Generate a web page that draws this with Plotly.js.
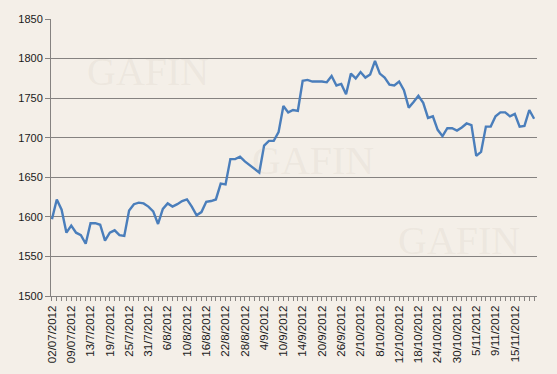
<!DOCTYPE html>
<html>
<head>
<meta charset="utf-8">
<script src="https://cdn.plot.ly/plotly-3.0.1.min.js"></script>
<style>html,body{margin:0;padding:0;background:#F4EFE8;}#chart{width:557px;height:374px;}</style>
</head>
<body>
<div id="chart"></div>
<script>
// Trading dates (d/m/yyyy)
const dates = [
 "2/7/2012","3/7/2012","5/7/2012","6/7/2012","9/7/2012","10/7/2012","11/7/2012","12/7/2012","13/7/2012",
 "16/7/2012","17/7/2012","18/7/2012","19/7/2012","20/7/2012","23/7/2012","24/7/2012","25/7/2012","26/7/2012","27/7/2012","30/7/2012","31/7/2012",
 "1/8/2012","2/8/2012","3/8/2012","6/8/2012","7/8/2012","8/8/2012","9/8/2012","10/8/2012","13/8/2012","14/8/2012","15/8/2012","16/8/2012",
 "17/8/2012","20/8/2012","21/8/2012","22/8/2012","23/8/2012","24/8/2012","27/8/2012","28/8/2012","29/8/2012","30/8/2012","31/8/2012",
 "4/9/2012","5/9/2012","6/9/2012","7/9/2012","10/9/2012","11/9/2012","12/9/2012","13/9/2012","14/9/2012","17/9/2012","18/9/2012","19/9/2012",
 "20/9/2012","21/9/2012","24/9/2012","25/9/2012","26/9/2012","27/9/2012","28/9/2012",
 "1/10/2012","2/10/2012","3/10/2012","4/10/2012","5/10/2012","8/10/2012","9/10/2012","10/10/2012","11/10/2012","12/10/2012",
 "15/10/2012","16/10/2012","17/10/2012","18/10/2012","19/10/2012","22/10/2012","23/10/2012","24/10/2012","25/10/2012","26/10/2012",
 "29/10/2012","30/10/2012","31/10/2012",
 "1/11/2012","2/11/2012","5/11/2012","6/11/2012","7/11/2012","8/11/2012","9/11/2012","12/11/2012","13/11/2012","14/11/2012","15/11/2012",
 "16/11/2012","19/11/2012","20/11/2012","21/11/2012"
];

// Price values
const prices = [
 1597,1622,1609,1580,1589,1580,1577,1566,1592,1592,1590,1570,1580,1583,1577,1576,1608,1616,1618,1617,1613,
 1607,1591,1610,1617,1613,1616,1620,1622,1613,1602,1606,1619,1620,1622,1642,1641,1673,1673,1676,1670,1665,1661,1656,
 1690,1696,1696,1707,1740,1732,1735,1734,1772,1773,1771,1771,1771,1770,1778,1766,1768,1755,1781,
 1775,1783,1776,1780,1797,1781,1776,1767,1766,1771,1760,1738,1745,1753,1744,1725,1727,1710,1702,1712,1712,
 1709,1713,1718,1716,1677,1682,1714,1714,1727,1732,1732,1727,1730,1714,1715,1735,1724
];

// Tick labels shown every 4th trading day
const tickLabels = [
 "02/07/2012","09/07/2012","13/7/2012","19/7/2012","25/7/2012","31/7/2012","6/8/2012","10/8/2012","16/8/2012",
 "22/8/2012","28/8/2012","4/9/2012","10/9/2012","14/9/2012","20/9/2012","26/9/2012","2/10/2012","8/10/2012",
 "12/10/2012","18/10/2012","24/10/2012","30/10/2012","5/11/2012","9/11/2012","15/11/2012"
];

const tickvals = dates.slice();
const ticktext = dates.map((d, i) => (i % 4 === 0 && tickLabels[i / 4] !== undefined) ? tickLabels[i / 4] : "");

const gridColor = "#858280";
const trace = {
  x: dates, y: prices, type: "scatter", mode: "lines",
  line: {color: "#4A7EBB", width: 2.4},
  hoverinfo: "skip"
};

const wm = {family: "Liberation Serif, serif", size: 40, color: "rgba(190,180,165,0.14)"};
const wmAnn = (x, y) => ({xref: "paper", yref: "paper", x: x, y: y, xanchor: "center", yanchor: "middle",
  text: "GAFIN", showarrow: false, font: wm});
const layout = {
  width: 557, height: 374,
  margin: {l: 51, r: 20, t: 19, b: 78},
  paper_bgcolor: "#F4EFE8", plot_bgcolor: "#F4EFE8",
  showlegend: false,
  font: {family: "Liberation Sans, Arial, sans-serif", size: 11, color: "#1a1a1a"},
  xaxis: {
    type: "category", range: [-0.2, 100.6],
    tickmode: "array", tickvals: tickvals, ticktext: ticktext,
    tickangle: -90, ticks: "outside", ticklen: 4, tickcolor: gridColor, tickwidth: 1,
    showgrid: false, showline: true, linecolor: gridColor, linewidth: 1,
    zeroline: false, tickfont: {size: 11.5, color: "#1a1a1a"}
  },
  yaxis: {
    range: [1500, 1850], tick0: 1500, dtick: 50,
    ticks: "outside", ticklen: 5, tickcolor: gridColor,
    showgrid: true, gridcolor: gridColor, gridwidth: 1,
    showline: true, linecolor: gridColor, linewidth: 1,
    zeroline: false, tickfont: {size: 11, color: "#1a1a1a"}
  },
  annotations: [wmAnn(0.2, 0.81), wmAnn(0.54, 0.49), wmAnn(0.84, 0.2)]
};

Plotly.newPlot("chart", [trace], layout, {staticPlot: true, displayModeBar: false});
</script>
</body>
</html>
